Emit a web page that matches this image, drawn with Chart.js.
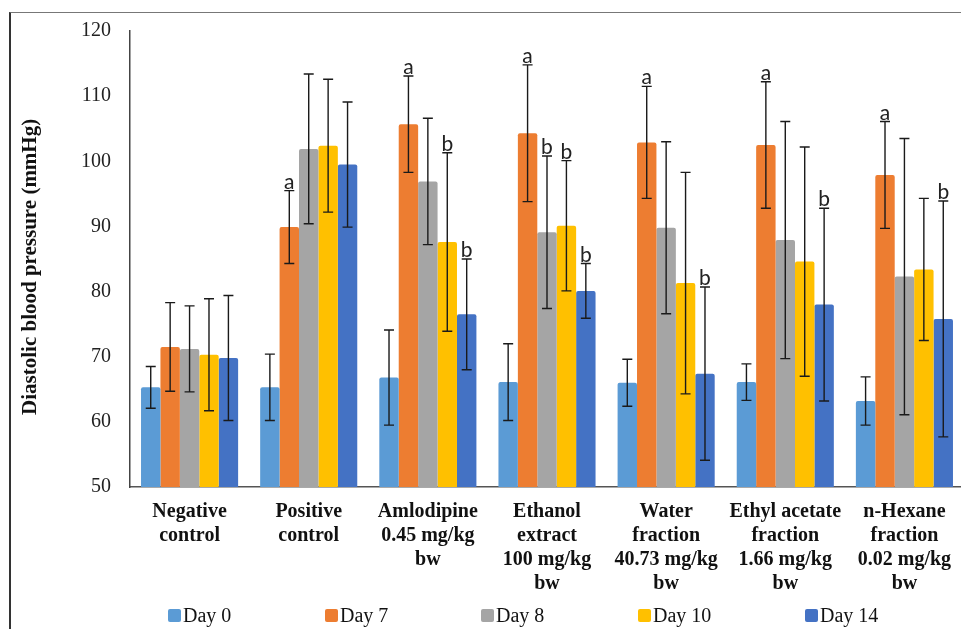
<!DOCTYPE html>
<html>
<head>
<meta charset="utf-8">
<script src="https://cdn.jsdelivr.net/npm/chart.js@4.4.0/dist/chart.umd.min.js"></script>
<style>
  html, body { margin: 0; padding: 0; background: #fff; width: 961px; height: 629px; overflow: hidden; }
  #frame { position: absolute; left: 9px; top: 12px; width: 980px; height: 650px;
           border-left: 2px solid #333; border-top: 1.5px solid #777; }
  #wrap { position: absolute; left: 0; top: 0; width: 970px; height: 629px; }
  #legend { position: absolute; left: 168px; top: 604px; display: flex;
            font: 20px "Liberation Serif", serif; color: #111; }
  #legend .item { display: flex; align-items: center; }
  #legend .box { width: 13px; height: 13px; border-radius: 2px; margin-right: 2px; }
</style>
</head>
<body>
<div id="frame"></div>
<div id="wrap"><canvas id="bpChart"></canvas></div>
<div id="legend"></div>
<script>
// -----------------------
// Data
// -----------------------
const groups = [
  ['Negative', 'control'],
  ['Positive', 'control'],
  ['Amlodipine', '0.45 mg/kg', 'bw'],
  ['Ethanol', 'extract', '100 mg/kg', 'bw'],
  ['Water', 'fraction', '40.73 mg/kg', 'bw'],
  ['Ethyl acetate', 'fraction', '1.66 mg/kg', 'bw'],
  ['n-Hexane', 'fraction', '0.02 mg/kg', 'bw']
];
const seriesNames = ['Day 0', 'Day 7', 'Day 8', 'Day 10', 'Day 14'];

const day0     = [65.3, 65.3, 66.8, 66.1, 66.0, 66.1, 63.2];
const day0Err  = [3.2, 5.1, 7.3, 5.9, 3.6, 2.8, 3.7];
const day7     = [71.5, 89.9, 105.7, 104.3, 102.9, 102.5, 97.9];
const day7Err  = [6.8, 5.6, 7.4, 10.5, 8.6, 9.7, 8.2];
const day8     = [71.2, 101.9, 96.9, 89.1, 89.8, 87.9, 82.3];
const day8Err  = [6.6, 11.5, 9.7, 11.7, 13.2, 18.2, 21.2];
const day10    = [70.3, 102.4, 87.6, 90.1, 81.3, 84.6, 83.4];
const day10Err = [8.6, 10.2, 13.7, 10.0, 17.0, 17.6, 10.9];
const day14    = [69.8, 99.5, 76.5, 80.1, 67.4, 78.0, 75.8];
const day14Err = [9.6, 9.6, 8.5, 4.2, 13.3, 14.8, 18.1];

// significance letters above the error bars
const day0Sig  = ['', '', '', '', '', '', ''];
const day7Sig  = ['', 'a', 'a', 'a', 'a', 'a', 'a'];
const day8Sig  = ['', '', '', 'b', '', '', ''];
const day10Sig = ['', '', 'b', 'b', '', '', ''];
const day14Sig = ['', '', 'b', 'b', 'b', 'b', 'b'];

const yMin = 50, yMax = 120, yStep = 10;

const colors = ['#5B9BD5', '#ED7D31', '#A5A5A5', '#FFC000', '#4472C4'];

// -----------------------
// Error bars + letters plugin
// -----------------------
const errorBars = {
  id: 'errorBars',
  afterDatasetsDraw(chart) {
    const { ctx, scales: { y } } = chart;
    ctx.save();
    chart.data.datasets.forEach((ds, i) => {
      const meta = chart.getDatasetMeta(i);
      meta.data.forEach((bar, j) => {
        const v = ds.data[j], e = ds.errors[j];
        const top = y.getPixelForValue(v + e);
        const bot = y.getPixelForValue(v - e);
        ctx.strokeStyle = '#1a1a1a';
        ctx.lineWidth = 1.4;
        ctx.beginPath();
        ctx.moveTo(bar.x, top); ctx.lineTo(bar.x, bot);
        ctx.moveTo(bar.x - 5, top); ctx.lineTo(bar.x + 5, top);
        ctx.moveTo(bar.x - 5, bot); ctx.lineTo(bar.x + 5, bot);
        ctx.stroke();
        const s = ds.sig[j];
        if (s) {
          ctx.fillStyle = '#222';
          ctx.font = '21px Lato';
          ctx.textAlign = 'center';
          ctx.textBaseline = 'alphabetic';
          ctx.fillText(s, bar.x, top - 2);
        }
      });
    });
    ctx.restore();
  }
};

const values = [day0, day7, day8, day10, day14];
const errs = [day0Err, day7Err, day8Err, day10Err, day14Err];
const sigs = [day0Sig, day7Sig, day8Sig, day10Sig, day14Sig];

const chart = new Chart(document.getElementById('bpChart'), {
  type: 'bar',
  data: {
    labels: groups,
    datasets: seriesNames.map((name, i) => ({
      label: name,
      data: values[i],
      errors: errs[i],
      sig: sigs[i],
      backgroundColor: colors[i],
      borderRadius: 2,
      categoryPercentage: 0.815,
      barPercentage: 1
    }))
  },
  options: {
    responsive: true,
    maintainAspectRatio: false,
    animation: false,
    layout: { padding: { top: 30, right: 6, bottom: 0, left: 0 } },
    plugins: { legend: { display: false }, tooltip: { enabled: false } },
    scales: {
      x: {
        grid: { display: false, drawTicks: false },
        border: { display: true, color: '#555', width: 1.5 },
        ticks: {
          color: '#111',
          padding: 13,
          maxRotation: 0,
          autoSkip: false,
          font: { family: 'Liberation Serif', size: 20, weight: 'bold', lineHeight: 1.2 }
        },
        afterFit: s => { s.height = 142; }
      },
      y: {
        min: yMin,
        max: yMax,
        grid: { display: false, drawTicks: false },
        border: { display: true, color: '#444', width: 1.5 },
        ticks: {
          stepSize: yStep,
          color: '#222',
          padding: 19,
          font: { family: 'Liberation Serif', size: 20 }
        },
        title: {
          display: true,
          // trailing spaces nudge the centred title a bit lower, as in the figure
          text: 'Diastolic blood pressure (mmHg)\u00a0\u00a0\u00a0',
          color: '#111',
          padding: { top: 18, bottom: 0 },
          font: { family: 'Liberation Serif', size: 21, weight: 'bold' }
        },
        afterFit: s => { s.width = 130; }
      }
    }
  },
  plugins: [errorBars]
});

// -----------------------
// Legend (HTML, from datasets)
// -----------------------
const itemWidths = [157, 156, 157, 167, 80];
const legendEl = document.getElementById('legend');
chart.data.datasets.forEach((ds, i) => {
  const item = document.createElement('div');
  item.className = 'item';
  item.style.width = itemWidths[i] + 'px';
  item.innerHTML = `<span class="box" style="background:${ds.backgroundColor}"></span><span>${ds.label}</span>`;
  legendEl.appendChild(item);
});
</script>
</body>
</html>
